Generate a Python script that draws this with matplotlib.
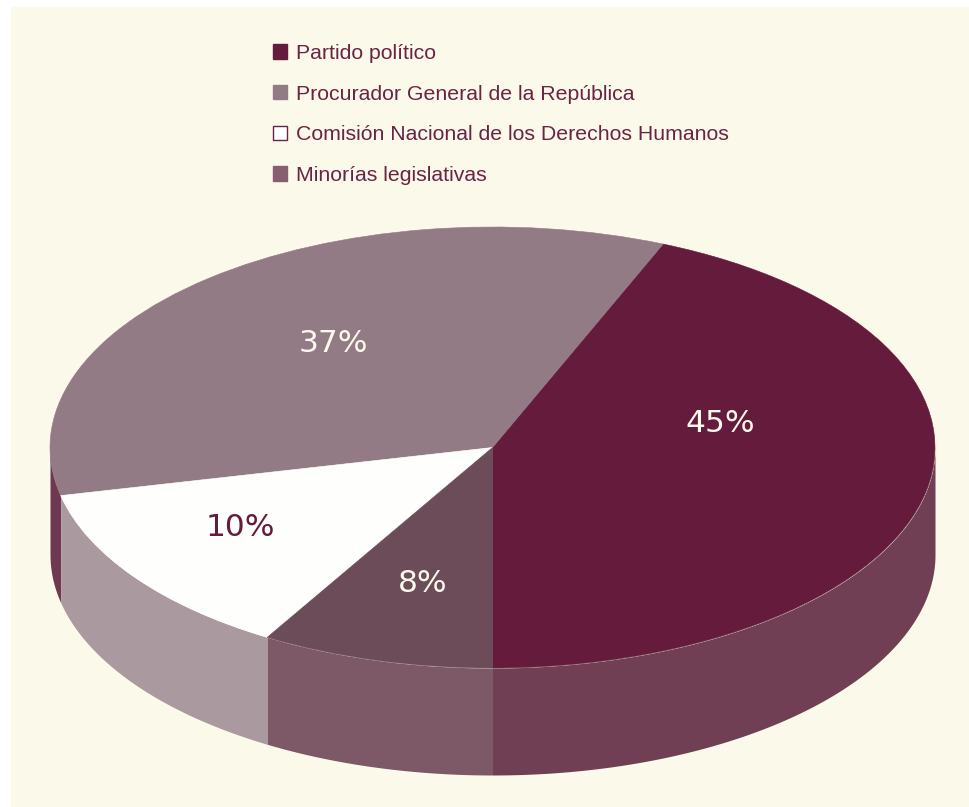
import numpy as np
import matplotlib
matplotlib.use("Agg")
import matplotlib.pyplot as plt
from matplotlib.patches import Patch, Rectangle

categories = ["Partido político", "Procurador General de la República",
              "Comisión Nacional de los Derechos Humanos", "Minorías legislativas"]
labels = ["45%", "37%", "10%", "8%"]
# slice sizes as they are drawn in the picture (they do not follow the printed % exactly)
drawn_shares = [43.7, 34.8, 13.0, 8.5]

top_colors = ["#651b3b", "#927b85", "#fefefd", "#6b4c58"]
wall_colors = ["#703f53", "#6e3850", "#aa9aa0", "#7d5867"]
legend_colors = ["#651b3b", "#927b85", "#ffffff", "#875f70"]
text_colors = ["#fbf8ec", "#fbf8ec", "#651b3b", "#fbf8ec"]
label_px = [(720, 424), (333, 344), (240, 528), (423, 583)]

W, H = 970, 807
CX, CY, RX, RY = 492.5, 447.5, 442.5, 220.5
DEPTH = 107 / RY
BG = "#fbf9ea"
TXT = "#6b2344"

def to_data(px, py):
    return (px - CX) / RX, (CY - py) / RY

fig = plt.figure(figsize=(W / 100, H / 100), dpi=100, facecolor="white")
ax = fig.add_axes([0, 0, 1, 1])

wedges, _ = ax.pie(drawn_shares, colors=top_colors, startangle=-90, counterclock=True,
                   radius=1, center=(0, 0), wedgeprops={"linewidth": 0, "zorder": 5})
for w, c in zip(wedges, top_colors):
    w.set_edgecolor(c)
    w.set_linewidth(0.4)
ax.set_aspect("auto")
ax.set_xlim(to_data(0, 0)[0], to_data(W, 0)[0])
ax.set_ylim(to_data(0, H)[1], to_data(0, 0)[1])
ax.axis("off")

# cream background, white strip on top and left
x0, y1 = to_data(11, 7)
x1, y0 = to_data(W, H)
ax.add_patch(Rectangle((x0, y0), x1 - x0, y1 - y0, color=BG, lw=0, zorder=0))

# side of the cake, only the lower half of each slice is visible
for w, c in zip(wedges, wall_colors):
    t = np.radians(np.linspace(w.theta1, w.theta2, 400))
    t = t[np.sin(t) <= 0]
    if len(t) == 0:
        continue
    order = np.argsort(np.cos(t))
    xs, ys = np.cos(t)[order], np.sin(t)[order]
    ax.fill_between(xs, ys - DEPTH, ys, color=c, lw=0, zorder=3)

for lab, (px, py), c in zip(labels, label_px, text_colors):
    x, y = to_data(px, py)
    ax.text(x, y, lab, color=c, fontsize=22.5, family="DejaVu Sans", ha="center", va="center", zorder=6)

handles = [Patch(facecolor=c, edgecolor=TXT if c == "#ffffff" else c, linewidth=1) for c in legend_colors]
leg = ax.legend(handles, categories, loc="upper left", bbox_to_anchor=(273 / W, 1 - 44 / H),
                frameon=False, handlelength=0.66, handleheight=0.66, handletextpad=0.4,
                labelspacing=1.02, borderpad=0, borderaxespad=0,
                prop={"family": "Liberation Sans", "size": 15.3}, labelcolor=TXT)
leg.set_zorder(7)

fig.savefig("out.png", dpi=100, facecolor="white")
